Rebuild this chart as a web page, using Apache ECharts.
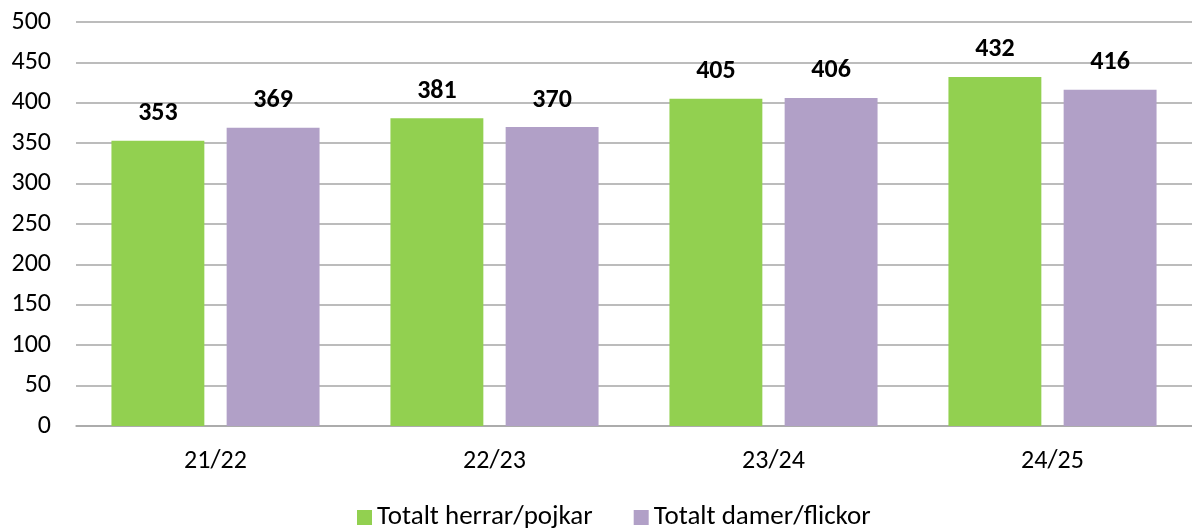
<!DOCTYPE html>
<html>
<head>
<meta charset="utf-8">
<script src="https://cdn.jsdelivr.net/npm/echarts@6/dist/echarts.min.js"></script>
<style>html,body{margin:0;padding:0;background:#fff;}#c{width:1192px;height:532px;}</style>
</head>
<body>
<div id="c"></div>
<script>
const categories = ['21/22', '22/23', '23/24', '24/25'];
const seriesNames = ['Totalt herrar/pojkar', 'Totalt damer/flickor'];
const herrar = [353, 381, 405, 432];
const damer = [369, 370, 406, 416];
const yTicks = { min: 0, max: 500, interval: 50 };

const font = 'Carlito, Calibri, "Open Sans", sans-serif';
const chart = echarts.init(document.getElementById('c'));
const labelStyle = { show: true, position: 'top', distance: 14, fontFamily: font, fontSize: 26, fontWeight: 'bold', color: '#000' };
chart.setOption({
  animation: false,
  grid: { left: 76, right: -8, top: 22, bottom: 106, containLabel: false },
  legend: {
    bottom: -4, left: 352, itemWidth: 15, itemHeight: 15, itemGap: 41, itemTextGap: 6,
    icon: 'rect',
    textStyle: { fontFamily: font, fontSize: 27, color: '#000' },
    data: seriesNames
  },
  xAxis: {
    type: 'category', data: categories,
    axisTick: { show: false },
    axisLine: { lineStyle: { color: '#A6A6A6', width: 1.5 } },
    axisLabel: { fontFamily: font, fontSize: 26, color: '#000', margin: 22 }
  },
  yAxis: {
    type: 'value', min: yTicks.min, max: yTicks.max, interval: yTicks.interval,
    axisLine: { show: false }, axisTick: { show: false },
    splitLine: { lineStyle: { color: '#A6A6A6', width: 1.5 } },
    axisLabel: { fontFamily: font, fontSize: 26, color: '#000', margin: 25 }
  },
  series: [
    {
      name: seriesNames[0], type: 'bar', data: herrar,
      itemStyle: { color: '#92D050' },
      barWidth: '33.3%', barGap: '24%',
      label: labelStyle
    },
    {
      name: seriesNames[1], type: 'bar', data: damer,
      itemStyle: { color: '#B1A0C7' },
      barWidth: '33.3%', barGap: '24%',
      label: labelStyle
    }
  ]
});
</script>
</body>
</html>
